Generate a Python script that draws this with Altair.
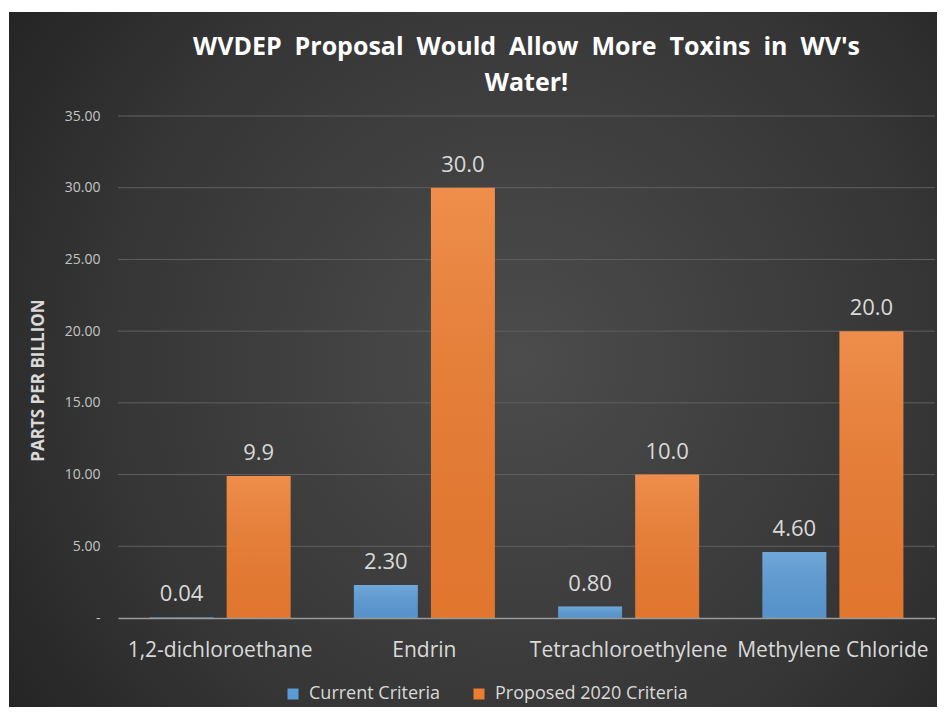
import altair as alt
import pandas as pd

# ---- data ----
categories = ["1,2-dichloroethane", "Endrin", "Tetrachloroethylene", "Methylene Chloride"]
series = ["Current Criteria", "Proposed 2020 Criteria"]
current_values = [0.04, 2.30, 0.80, 4.60]
proposed_values = [9.9, 30.0, 10.0, 20.0]
current_labels = ["0.04", "2.30", "0.80", "4.60"]
proposed_labels = ["9.9", "30.0", "10.0", "20.0"]
y_ticks = [0, 5, 10, 15, 20, 25, 30, 35]
colors = ["#5B9BD5", "#ED7D31"]

rows = []
for c, v, l in zip(categories, current_values, current_labels):
    rows.append({"category": c, "series": series[0], "value": v, "label": l})
for c, v, l in zip(categories, proposed_values, proposed_labels):
    rows.append({"category": c, "series": series[1], "value": v, "label": l})
df = pd.DataFrame(rows)
grid_df = pd.DataFrame({"value": y_ticks[1:]})

W, H = 817, 502
NB = "\u00a0"
FONT = "Open Sans"

y_scale = alt.Scale(domain=[0, 35], nice=False, zero=True)
y_axis = alt.Axis(
    title="PARTS PER BILLION",
    titleFont=FONT,
    titleFontSize=17,
    titleFontWeight="bold",
    titleColor="#d9d9d9",
    titleAngle=270,
    titleX=-80,
    titleY=264,
    titleAlign="center",
    titleBaseline="middle",
    values=y_ticks,
    labelExpr=f"datum.value === 0 ? '-{NB*4}' : format(datum.value, '.2f')",
    labelFont=FONT,
    labelFontSize=14,
    labelColor="#c4c4c4",
    labelPadding=18,
    ticks=False,
    tickSize=0,
    domain=False,
    grid=False,
    zindex=1,
)

bg = alt.Chart(pd.DataFrame({"k": [0]})).mark_rect(
    fill={
        "gradient": "radial",
        "x1": 0.55, "y1": 0.5, "r1": 0,
        "x2": 0.55, "y2": 0.5, "r2": 0.75,
        "stops": [
            {"offset": 0, "color": "#4c4c4c"},
            {"offset": 0.6, "color": "#353535"},
            {"offset": 1, "color": "#1e1e1e"},
        ],
    }
).encode(x=alt.value(-109), x2=alt.value(819), y=alt.value(-104), y2=alt.value(591))

grid = alt.Chart(grid_df).mark_rule(color="#606060", strokeWidth=1).encode(
    y=alt.Y("value:Q", scale=y_scale, axis=y_axis),
    x=alt.value(0),
    x2=alt.value(W),
)

base = alt.Chart(df).encode(
    x=alt.X(
        "category:N",
        sort=categories,
        scale=alt.Scale(paddingInner=0, paddingOuter=0),
        axis=alt.Axis(
            title=None,
            labelAngle=0,
            labelFont=FONT,
            labelFontSize=21,
            labelColor="#d9d9d9",
            labelPadding=21,
            labelLimit=0,
            ticks=False,
            domain=True,
            domainColor="#9a9a9a",
            domainWidth=1.5,
            grid=False,
            zindex=1,
            labelOverlap=False,
        ),
    ),
    xOffset=alt.XOffset(
        "series:N", sort=series, scale=alt.Scale(paddingInner=0.17, paddingOuter=0.41)
    ),
    y=alt.Y("value:Q", scale=y_scale, axis=y_axis),
)

bars = base.mark_bar().encode(
    color=alt.Color(
        "series:N",
        sort=series,
        scale=alt.Scale(domain=series, range=colors),
        legend=alt.Legend(
            orient="none",
            legendX=166,
            legendY=569,
            direction="horizontal",
            title=None,
            symbolType="square",
            symbolSize=121,
            symbolStrokeWidth=0,
            labelFont=FONT,
            labelFontSize=18,
            labelColor="#d9d9d9",
            labelOffset=7,
            labelLimit=0,
            columnPadding=30,
            padding=0,
            zindex=1,
        ),
    )
)

shade = base.mark_bar(
    fill={
        "gradient": "linear",
        "x1": 0, "y1": 0, "x2": 0, "y2": 1,
        "stops": [
            {"offset": 0, "color": "rgba(255,255,255,0.13)"},
            {"offset": 1, "color": "rgba(0,0,0,0.05)"},
        ],
    }
)

text = base.mark_text(
    dy=-16, baseline="alphabetic", fontSize=22, color="#d9d9d9", font=FONT
).encode(text="label:N")

chart = (
    alt.layer(bg, grid, bars, shade, text)
    .properties(
        width=W,
        height=H,
        padding={"left": 110, "top": 108, "right": 2, "bottom": 89},
        autosize=alt.AutoSizeParams(type="none"),
        title=alt.Title(
            text=[f"WVDEP{NB}{NB}Proposal{NB}{NB}Would{NB}{NB}Allow{NB}{NB}More{NB}{NB}Toxins{NB}{NB}in{NB}{NB}WV's", "Water!"],
            font=FONT,
            fontSize=25,
            fontWeight="bold",
            color="#ffffff",
            anchor="middle",
            frame="group",
            lineHeight=36,
            offset=20,
            dy=104,
            zindex=1,
        ),
    )
    .configure(background="white")
    .configure_view(stroke=None)
)

chart.save("out.html", embed_options={"renderer": "svg", "actions": False})
